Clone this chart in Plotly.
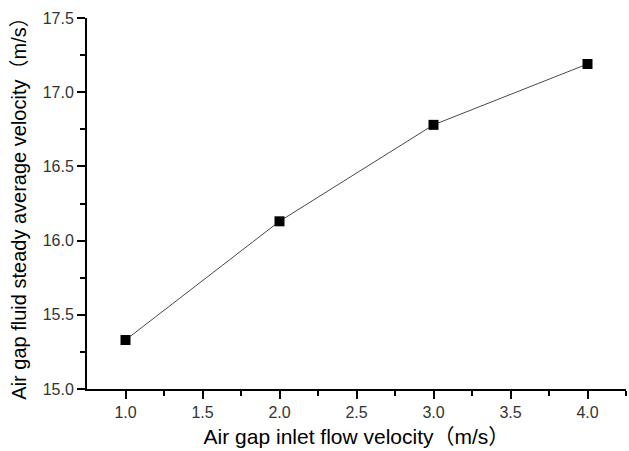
import plotly.graph_objects as go

inlet_velocity = [1.0, 2.0, 3.0, 4.0]
avg_velocity = [15.33, 16.13, 16.78, 17.19]
x_ticks = [1.0, 1.5, 2.0, 2.5, 3.0, 3.5, 4.0]
x_labels = ["1.0", "1.5", "2.0", "2.5", "3.0", "3.5", "4.0"]
y_ticks = [15.0, 15.5, 16.0, 16.5, 17.0, 17.5]
y_labels = ["15.0", "15.5", "16.0", "16.5", "17.0", "17.5"]
x_title = "Air gap inlet flow velocity（m/s）"
y_title = "Air gap fluid steady average velocity（m/s）"

fig = go.Figure()
fig.add_trace(go.Scatter(
    x=inlet_velocity, y=avg_velocity, mode="lines+markers",
    line=dict(color="#4a4a4a", width=1),
    marker=dict(symbol="square", size=10, color="black"),
    showlegend=False,
))

font = "Liberation Sans, Arial, Noto Sans CJK SC, sans-serif"
fig.update_layout(
    width=629, height=451,
    margin=dict(l=87, r=3, t=18, b=62),
    paper_bgcolor="white", plot_bgcolor="white",
    font=dict(family=font, color="#222222"),
)
fig.update_xaxes(
    range=[0.75, 4.25], tickvals=x_ticks, ticktext=x_labels, automargin=False,
    showgrid=False, zeroline=False, showline=True, linecolor="black", linewidth=2,
    ticks="outside", ticklen=8, tickwidth=2, tickcolor="black",
    minor=dict(tickvals=[1.25, 1.75, 2.25, 2.75, 3.25, 3.75, 4.25], ticks="outside", ticklen=5, tickwidth=2, tickcolor="black"),
    tickfont=dict(size=16, color="#333333"),
    title=dict(text=x_title, font=dict(size=21, color="black"), standoff=9),
)
fig.update_yaxes(
    range=[15.0, 17.5], tickvals=y_ticks, ticktext=y_labels, automargin=False,
    showgrid=False, zeroline=False, showline=True, linecolor="black", linewidth=2,
    ticks="outside", ticklen=8, tickwidth=2, tickcolor="black",
    minor=dict(tickvals=[15.25, 15.75, 16.25, 16.75, 17.25], ticks="outside", ticklen=5, tickwidth=2, tickcolor="black"),
    tickfont=dict(size=16, color="#333333"),
    title=dict(text=y_title, font=dict(size=20, color="black"), standoff=11),
)
fig.write_html("out.html", config={"displayModeBar": False},
               post_script="document.body.style.margin='0';document.body.style.overflow='hidden';")
